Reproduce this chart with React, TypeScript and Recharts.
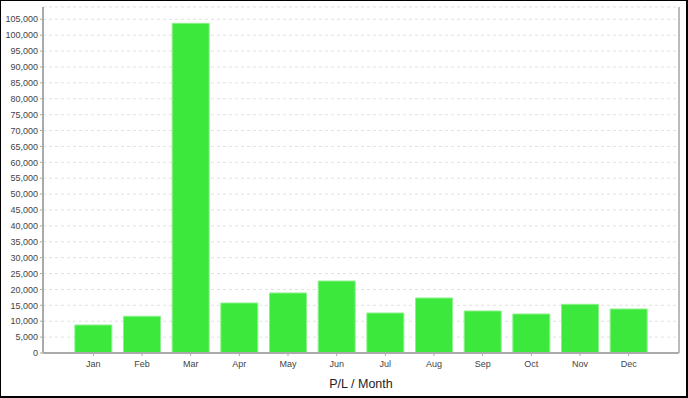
import { BarChart, Bar, XAxis, YAxis, CartesianGrid } from "recharts";

const months = ["Jan", "Feb", "Mar", "Apr", "May", "Jun", "Jul", "Aug", "Sep", "Oct", "Nov", "Dec"];
const pl = [8810, 11550, 103740, 15730, 18880, 22650, 12590, 17300, 13220, 12270, 15320, 13840];
const yTicks = [
  0, 5000, 10000, 15000, 20000, 25000, 30000, 35000, 40000, 45000, 50000,
  55000, 60000, 65000, 70000, 75000, 80000, 85000, 90000, 95000, 100000, 105000,
];
const yMax = 108870;

const data = months.map((m, i) => ({ month: m, value: pl[i] }));

const tickStyle = { fill: "#444", fontSize: 9, fontFamily: "'Liberation Sans', Arial, sans-serif" };
const axisGray = "#aaaaaa";

export default function App() {
  return (
    <div style={{ position: "absolute", left: 0, top: 0, width: 688, height: 398, background: "#fff" }}>
      <BarChart
        width={688}
        height={398}
        data={data}
        margin={{ top: 7, right: 8, left: 0, bottom: 0 }}
        barCategoryGap="12%"
      >
        <CartesianGrid vertical={false} stroke="#e0e0e0" strokeDasharray="3 3" />
        <XAxis
          dataKey="month"
          height={45}
          padding={{ left: 26, right: 26 }}
          tick={{ ...tickStyle, dy: 3 }}
          tickSize={3}
          tickLine={{ stroke: axisGray }}
          axisLine={{ stroke: axisGray, strokeWidth: 2 }}
          interval={0}
          label={{
            value: "P/L / Month",
            position: "insideBottom",
            offset: 10,
            style: { fill: "#222", fontSize: 12.5, fontFamily: "'Liberation Sans', Arial, sans-serif" },
          }}
        />
        <XAxis
          xAxisId="top"
          dataKey="month"
          orientation="top"
          height={0}
          tick={false}
          tickLine={false}
          axisLine={{ stroke: "#bbbbbb", strokeWidth: 2 }}
        />
        <YAxis
          width={43}
          domain={[0, yMax]}
          ticks={yTicks}
          interval={0}
          tick={tickStyle}
          tickSize={3}
          tickLine={{ stroke: axisGray }}
          axisLine={{ stroke: axisGray, strokeWidth: 2 }}
          tickFormatter={(v: number) => v.toLocaleString("en-US")}
        />
        <YAxis
          yAxisId="right"
          orientation="right"
          width={1}
          domain={[0, yMax]}
          tick={false}
          tickLine={false}
          axisLine={{ stroke: "#bbbbbb", strokeWidth: 2 }}
        />
        <Bar dataKey="value" fill="#3de83d" stroke="#8cf08c" strokeWidth={1} isAnimationActive={false} />
      </BarChart>
      <div
        style={{
          position: "absolute",
          left: 0,
          top: 0,
          width: 688,
          height: 398,
          boxSizing: "border-box",
          borderTop: "1px solid #000",
          borderLeft: "1px solid #000",
          borderRight: "2px solid #000",
          borderBottom: "2px solid #000",
          pointerEvents: "none",
        }}
      />
    </div>
  );
}
